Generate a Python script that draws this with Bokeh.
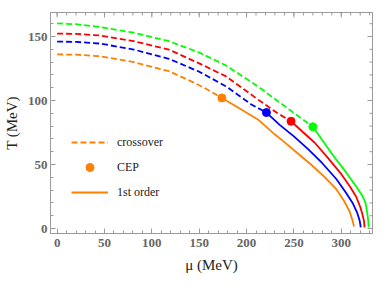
import math
from bokeh.plotting import figure
from bokeh.models import Range1d, LinearAxis, Legend, LegendItem, FixedTicker
from bokeh.embed import file_html
from bokeh.resources import INLINE

# ---- data (mu in MeV, T in MeV) ----
orange_cross_mu = [0, 20, 45, 81, 118, 145, 155, 174]
orange_cross_T = [136, 135.8, 134.6, 130, 122.9, 113.8, 110, 102]
orange_first_mu = [174, 190, 212, 230, 240, 252, 268, 282, 295, 303, 309, 312, 313.5]
orange_first_T = [102, 95, 85.2, 73.4, 67.5, 60, 50, 40.5, 30.5, 21.5, 13, 6, 1.5]
orange_cep_mu = [174]
orange_cep_T = [102]

blue_cross_mu = [0, 20, 45, 81, 118, 150, 178, 205, 221]
blue_cross_T = [146, 145.8, 144.5, 139.8, 132.6, 122.5, 111.2, 96.9, 90.6]
blue_first_mu = [221, 235, 250, 265, 280, 295, 305, 312, 317, 319.5, 320.6]
blue_first_T = [90.6, 81, 72, 62, 51, 38.5, 28, 20, 12, 6, 0.8]
blue_cep_mu = [221]
blue_cep_T = [90.6]

red_cross_mu = [0, 20, 45, 81, 118, 150, 178, 212, 232, 247]
red_cross_T = [152.3, 152, 150.8, 146.3, 139.8, 129, 119, 100.8, 90.4, 83.8]
red_first_mu = [247, 260, 272, 285, 299, 309, 315.6, 320, 322, 324, 324.6]
red_first_T = [83.8, 75, 67, 56, 43.5, 33, 25, 17, 12, 6, 0.8]
red_cep_mu = [247]
red_cep_T = [83.8]

green_cross_mu = [0, 20, 45, 81, 118, 150, 178, 212, 245, 270]
green_cross_T = [160.2, 159.6, 157.5, 153, 146.3, 137.5, 127.5, 111, 93, 79.5]
green_first_mu = [270, 281, 292, 304, 315.6, 322, 325.6, 327.5, 328.5, 329]
green_first_T = [79.5, 68, 56.5, 45, 33, 26, 20, 12, 6, 0.8]
green_cep_mu = [270]
green_cep_T = [79.5]

x_ticks = [0, 50, 100, 150, 200, 250, 300]
y_ticks = [0, 50, 100, 150]
x_minor = list(range(-10, 341, 10))
y_minor = list(range(-10, 171, 10))
legend_labels = ["crossover", "CEP", "1st order"]
x_label = "μ (MeV)"
y_label = "T (MeV)"

ORANGE = "#ff8000"
BLUE = "#0000ff"
RED = "#ff0000"
GREEN = "#00ff00"
FRAME = "#9a9a9a"
SERIF = "Liberation Serif"

X0, X1 = -7, 333
Y0, Y1 = -3.9, 168.75

p = figure(width=374, height=277, output_backend="svg", toolbar_location=None,
           x_range=Range1d(X0, X1), y_range=Range1d(Y0, Y1),
           min_border_left=40, min_border_right=2, min_border_top=12, min_border_bottom=44,
           x_axis_location=None, y_axis_location=None)
p.grid.visible = False
p.outline_line_color = FRAME
p.background_fill_color = "white"
p.border_fill_color = "white"


def style_axis(ax, ticks, minor, label):
    ax.ticker = FixedTicker(ticks=ticks, minor_ticks=minor)
    ax.axis_line_color = FRAME
    ax.major_tick_line_color = FRAME
    ax.minor_tick_line_color = FRAME
    ax.major_tick_in = 5
    ax.major_tick_out = 0
    ax.minor_tick_in = 3
    ax.minor_tick_out = 0
    ax.major_label_text_font = SERIF
    ax.major_label_text_font_style = "bold"
    ax.major_label_text_font_size = "13px"
    ax.major_label_text_color = "#666666"
    ax.axis_label = label
    ax.axis_label_text_font = SERIF
    ax.axis_label_text_font_style = "normal"
    ax.axis_label_text_font_size = "15px"
    ax.axis_label_text_color = "#222222"


xb = LinearAxis()
style_axis(xb, x_ticks, x_minor, x_label)
xb.major_label_standoff = 5
xb.axis_label_standoff = 7
p.add_layout(xb, "below")

yl = LinearAxis()
style_axis(yl, y_ticks, y_minor, y_label)
yl.major_label_standoff = 3
yl.axis_label_standoff = 5
p.add_layout(yl, "left")

# ticks along top and right edges of the frame (half of each dash is clipped away)
p.scatter(x_ticks, [Y1] * len(x_ticks), marker="dash", angle=math.pi / 2, size=10,
          line_color=FRAME, line_width=1)
p.scatter(x_minor, [Y1] * len(x_minor), marker="dash", angle=math.pi / 2, size=6,
          line_color=FRAME, line_width=1)
p.scatter([X1] * len(y_ticks), y_ticks, marker="dash", size=10,
          line_color=FRAME, line_width=1)
p.scatter([X1] * len(y_minor), y_minor, marker="dash", size=6,
          line_color=FRAME, line_width=1)

LW = 1.8
DASH = "6 3"
series = [
    (GREEN, green_cross_mu, green_cross_T, green_first_mu, green_first_T, green_cep_mu, green_cep_T),
    (RED, red_cross_mu, red_cross_T, red_first_mu, red_first_T, red_cep_mu, red_cep_T),
    (BLUE, blue_cross_mu, blue_cross_T, blue_first_mu, blue_first_T, blue_cep_mu, blue_cep_T),
    (ORANGE, orange_cross_mu, orange_cross_T, orange_first_mu, orange_first_T, orange_cep_mu, orange_cep_T),
]
legend_renderers = None
for color, cmu, cT, fmu, fT, pmu, pT in series:
    r1 = p.line(cmu, cT, line_color=color, line_width=LW, line_dash=DASH)
    r2 = p.line(fmu, fT, line_color=color, line_width=LW)
    r3 = p.scatter(pmu, pT, size=8, fill_color=color, line_color=color)
    legend_renderers = (r1, r3, r2)

legend = Legend(items=[LegendItem(label=legend_labels[i], renderers=[legend_renderers[i]])
                       for i in range(3)],
                location=(21, 31), orientation="vertical",
                padding=0, margin=0, spacing=5, glyph_width=37, glyph_height=20,
                label_standoff=9, label_text_font=SERIF, label_text_font_size="12px",
                label_text_color="#222222", border_line_color=None,
                background_fill_alpha=0)
p.add_layout(legend, "center")

open("out.html", "w").write(file_html(p, INLINE))
